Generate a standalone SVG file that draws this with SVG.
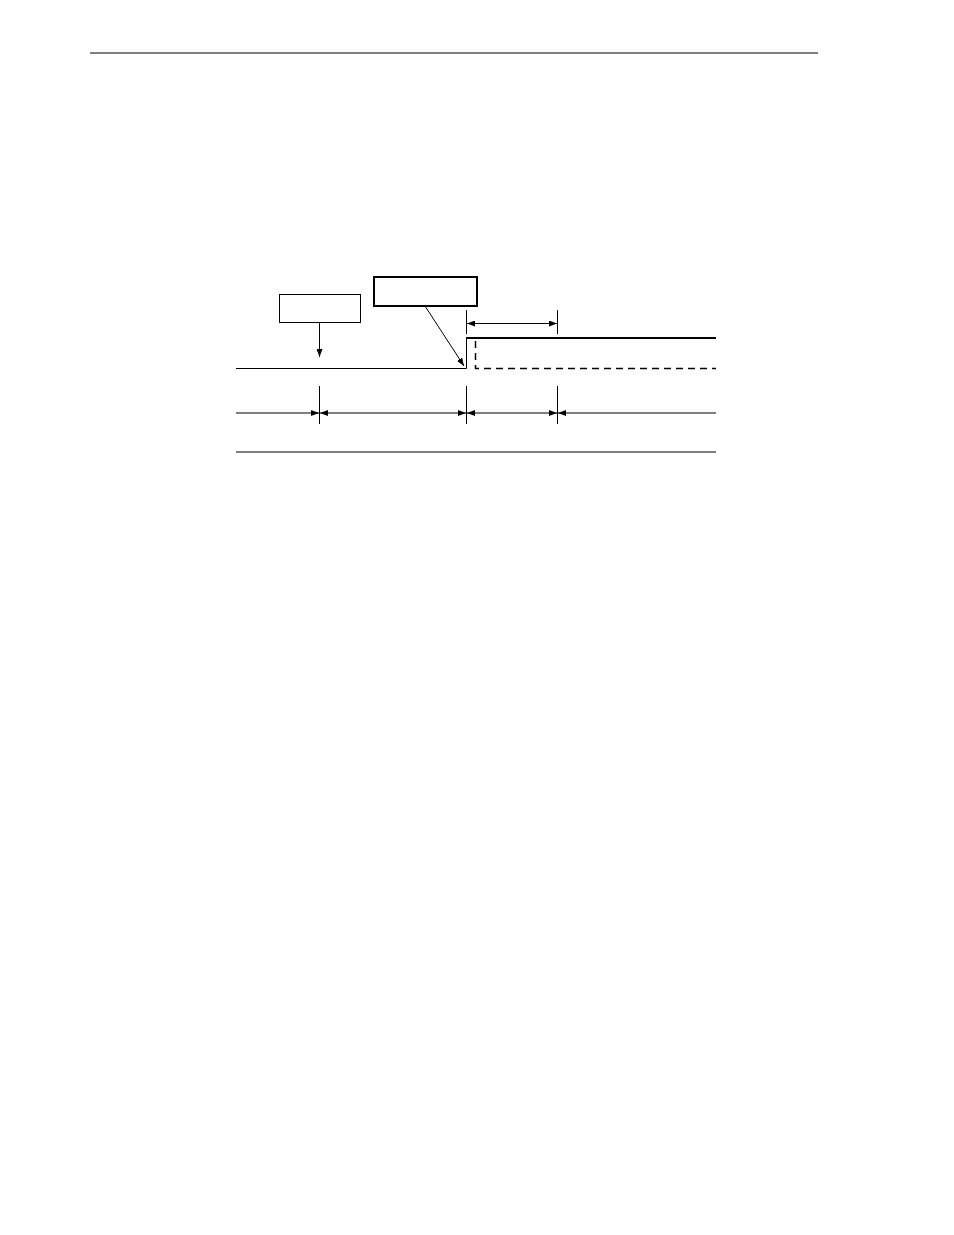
<svg xmlns="http://www.w3.org/2000/svg" width="954" height="1235" viewBox="0 0 954 1235">
<style>
.thin{stroke:#000;stroke-width:1;fill:none}
.thick{stroke:#000;stroke-width:2;fill:none}
.dash{stroke:#000;stroke-width:1.5;fill:none;stroke-dasharray:7,5}
</style>
<defs>
<marker id="ah" viewBox="0 0 8 6" refX="8" refY="3" markerWidth="8" markerHeight="6" markerUnits="userSpaceOnUse" orient="auto-start-reverse">
<path d="M0,0 L8,3 L0,6 Z" fill="#000"/>
</marker>
</defs>
<rect width="954" height="1235" fill="#fff"/>
<line class="thin" x1="90" y1="53" x2="818" y2="53"/>
<g id="box1"><rect class="thin" x="279.5" y="294.5" width="81" height="28"/></g>
<g id="box2"><rect class="thick" x="374" y="277" width="103" height="29"/></g>
<g id="signal">
<polyline class="thin" points="236,368.5 466.5,368.5 466.5,338"/>
<line class="thick" x1="466" y1="338" x2="716" y2="338"/>
<polyline class="dash" points="475.5,341 475.5,368.5 716,368.5"/>
<line class="thin" x1="236" y1="452" x2="716" y2="452"/>
</g>
<g id="connectors">
<line class="thin" x1="319.5" y1="322.5" x2="319.5" y2="357" marker-end="url(#ah)"/>
<line class="thin" x1="425" y1="306" x2="464" y2="366" marker-end="url(#ah)" stroke-width="0.8"/>
<line class="thin" x1="466.5" y1="310" x2="466.5" y2="334"/>
<line class="thin" x1="557.5" y1="310" x2="557.5" y2="334"/>
<line class="thin" x1="467" y1="323.5" x2="557" y2="323.5" marker-start="url(#ah)" marker-end="url(#ah)"/>
<line class="thin" x1="319.5" y1="386" x2="319.5" y2="424"/>
<line class="thin" x1="466.5" y1="386" x2="466.5" y2="424"/>
<line class="thin" x1="557.5" y1="386" x2="557.5" y2="424"/>
<line class="thin" x1="236" y1="413" x2="319" y2="413" marker-end="url(#ah)"/>
<line class="thin" x1="320" y1="413" x2="466" y2="413" marker-start="url(#ah)" marker-end="url(#ah)"/>
<line class="thin" x1="467" y1="413" x2="557" y2="413" marker-start="url(#ah)" marker-end="url(#ah)"/>
<line class="thin" x1="558" y1="413" x2="716" y2="413" marker-start="url(#ah)"/>
</g>
</svg>
